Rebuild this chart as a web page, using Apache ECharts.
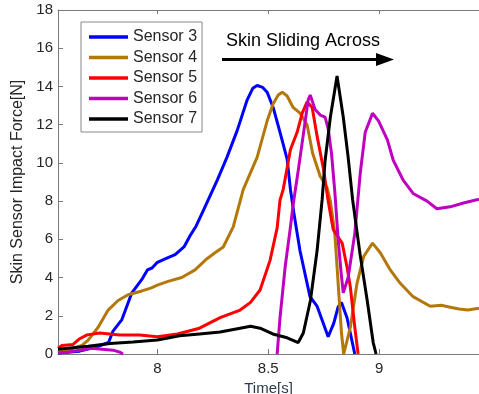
<!DOCTYPE html>
<html>
<head>
<meta charset="utf-8">
<script src="https://cdn.jsdelivr.net/npm/echarts@6/dist/echarts.min.js"></script>
<style>
html,body{margin:0;padding:0;background:#fff;}
#chart{width:479px;height:394px;}
</style>
</head>
<body>
<div id="chart"></div>
<script>
// ---- data ----
var seriesNames = ['Sensor 3', 'Sensor 4', 'Sensor 5', 'Sensor 6', 'Sensor 7'];
var xTicks = [8, 8.5, 9];
var yTicks = [0, 2, 4, 6, 8, 10, 12, 14, 16, 18];

var sensor3 = [[7.552,0.05],[7.65,0.15],[7.72,0.35],[7.78,0.6],[7.80,1.2],[7.84,1.8],[7.885,3.2],[7.93,3.9],
  [7.955,4.4],[7.976,4.5],[8.0,4.8],[8.04,5.0],[8.08,5.2],[8.12,5.6],[8.148,6.2],[8.175,6.7],[8.207,7.5],
  [8.27,9.1],[8.314,10.3],[8.36,11.7],[8.405,13.3],[8.43,13.9],[8.45,14.05],[8.475,13.95],[8.495,13.7],
  [8.522,12.9],[8.553,11.6],[8.585,10.2],[8.6,8.6],[8.615,7.4],[8.643,5.4],[8.688,3.0],[8.72,2.5],
  [8.745,1.7],[8.77,0.9],[8.795,1.6],[8.815,2.46],[8.83,2.7],[8.855,1.9],[8.89,0]];

var sensor4 = [[7.552,0.1],[7.62,0.3],[7.66,0.45],[7.688,0.73],[7.733,1.4],[7.778,2.3],[7.823,2.8],
  [7.868,3.1],[7.93,3.3],[7.97,3.45],[8.0,3.6],[8.048,3.8],[8.11,4.0],[8.17,4.4],[8.225,5.0],[8.26,5.3],
  [8.297,5.6],[8.342,6.65],[8.387,8.6],[8.45,10.3],[8.495,12.2],[8.522,13.1],[8.545,13.55],[8.563,13.7],
  [8.585,13.5],[8.612,12.9],[8.643,12.6],[8.675,12.0],[8.70,10.5],[8.734,9.3],[8.765,8.7],[8.78,8.0],
  [8.80,6.3],[8.815,3.7],[8.83,1.1],[8.84,0.0],[8.87,1.4],[8.90,3.7],[8.93,5.1],[8.97,5.8],[9.005,5.3],
  [9.05,4.4],[9.095,3.7],[9.153,3.0],[9.23,2.5],[9.28,2.55],[9.32,2.45],[9.36,2.35],[9.40,2.3],[9.45,2.4]];

var sensor5 = [[7.552,0.3],[7.57,0.45],[7.62,0.5],[7.65,0.8],[7.683,1.0],[7.74,1.1],[7.83,1.0],[7.92,1.0],
  [8.0,0.9],[8.09,1.05],[8.19,1.35],[8.283,1.9],[8.373,2.3],[8.42,2.7],[8.463,3.35],[8.508,4.9],[8.54,6.6],
  [8.553,8.06],[8.567,8.6],[8.6,10.7],[8.63,11.6],[8.653,12.6],[8.675,13.2],[8.698,12.9],[8.72,11.4],
  [8.75,9.6],[8.77,8.0],[8.793,6.5],[8.833,5.8],[8.855,4.55],[8.87,3.5],[8.89,1.4],[8.905,0.0]];

var sensor6 = [[7.552,0.05],[7.6,0.1],[7.65,0.2],[7.7,0.3],[7.75,0.25],[7.8,0.2],[7.83,0.1],[7.845,0],
  [8.2,null],
  [8.54,0],[8.553,1.9],[8.576,4.55],[8.6,6.65],[8.612,7.8],[8.635,9.6],[8.657,11.4],[8.68,13.3],
  [8.689,13.55],[8.711,12.8],[8.734,12.5],[8.756,12.4],[8.77,11.8],[8.785,10.5],[8.80,8.5],[8.815,6.0],
  [8.828,4.3],[8.838,3.2],[8.86,4.0],[8.89,6.3],[8.915,9.5],[8.937,11.6],[8.97,12.6],[8.997,12.2],
  [9.037,11.2],[9.063,10.15],[9.108,9.1],[9.153,8.4],[9.216,8.0],[9.26,7.6],[9.32,7.7],[9.38,7.9],[9.45,8.1]];

var sensor7 = [[7.552,0.25],[7.688,0.4],[7.787,0.55],[7.89,0.63],[8.0,0.73],[8.1,0.95],[8.19,1.05],
  [8.283,1.15],[8.373,1.35],[8.42,1.45],[8.463,1.35],[8.52,1.05],[8.585,0.85],[8.635,0.6],[8.658,1.1],
  [8.69,2.8],[8.72,5.4],[8.743,8.1],[8.756,10.1],[8.78,12.4],[8.81,14.55],[8.838,12.4],[8.86,10.3],
  [8.88,8.1],[8.914,5.2],[8.946,2.8],[8.973,0.6],[8.986,0.0]];

var seriesData = [sensor3, sensor4, sensor5, sensor6, sensor7];
var seriesColors = ['#0000FF', '#B4780A', '#FF0000', '#C000C0', '#000000'];

// ---- chart ----
var chart = echarts.init(document.getElementById('chart'), null, {renderer: 'canvas'});
var FONT = 'Liberation Sans, Arial, Helvetica, sans-serif';
var axisCol = '#7a7a7a';
var txtCol = '#262626';

var series = seriesNames.map(function (n, i) {
  return {
    name: n, type: 'line', data: seriesData[i], symbol: 'none', showSymbol: false,
    connectNulls: false, smooth: false, clip: true,
    lineStyle: {color: seriesColors[i], width: 3},
    itemStyle: {color: seriesColors[i]},
    emphasis: {disabled: true}, animation: false
  };
});

chart.setOption({
  animation: false,
  backgroundColor: '#fff',
  grid: {left: 58, right: 0, top: 10, bottom: 40, containLabel: false, outerBoundsMode: 'none'},
  legend: {
    show: true, orient: 'vertical', left: 81, top: 22,
    data: seriesNames, icon: 'rect', itemWidth: 39, itemHeight: 3.5, itemGap: 4.5,
    padding: [7, 5, 5, 8], borderColor: '#888', borderWidth: 1, backgroundColor: '#fff',
    textStyle: {fontFamily: FONT, fontSize: 16, color: txtCol, lineHeight: 16},
    selectedMode: false
  },
  xAxis: [{
    type: 'value', min: 7.552, max: 9.45, position: 'bottom',
    name: 'Time[s]', nameLocation: 'middle', nameGap: 20,
    nameTextStyle: {fontFamily: FONT, fontSize: 15, color: '#2b3a4a'},
    axisLine: {show: true, lineStyle: {color: axisCol, width: 1}},
    axisTick: {show: true, inside: true, length: 5, lineStyle: {color: axisCol}, customValues: xTicks},
    axisLabel: {show: true, margin: 7, fontFamily: FONT, fontSize: 15, color: txtCol, customValues: xTicks,
      formatter: function (v) { return String(v); }},
    splitLine: {show: false}
  }, {
    type: 'value', min: 7.552, max: 9.45, position: 'top',
    axisLine: {show: true, onZero: false, lineStyle: {color: axisCol, width: 1}},
    axisTick: {show: true, inside: true, length: 4, lineStyle: {color: axisCol}, customValues: xTicks},
    axisLabel: {show: false}, splitLine: {show: false}
  }],
  yAxis: [{
    type: 'value', min: 0, max: 18, interval: 2,
    name: 'Skin Sensor Impact Force[N]', nameLocation: 'middle', nameGap: 26, nameRotate: 90,
    nameTextStyle: {fontFamily: FONT, fontSize: 16, color: txtCol},
    axisLine: {show: true, lineStyle: {color: axisCol, width: 1}},
    axisTick: {show: true, inside: true, length: 5, lineStyle: {color: axisCol}},
    axisLabel: {show: true, margin: 5, fontFamily: FONT, fontSize: 15, color: txtCol},
    splitLine: {show: false}
  }],
  series: series,
  graphic: [
    {type: 'text', left: 226, top: 32, z: 100,
      style: {text: 'Skin Sliding Across', fontFamily: FONT, fontSize: 18, fill: '#000'}},
    {type: 'line', z: 100, shape: {x1: 222, y1: 59.5, x2: 380, y2: 59.5},
      style: {stroke: '#000', lineWidth: 3}},
    {type: 'polygon', z: 100, shape: {points: [[376, 53], [394, 59.5], [376, 66]]},
      style: {fill: '#000'}}
  ]
});
</script>
</body>
</html>
